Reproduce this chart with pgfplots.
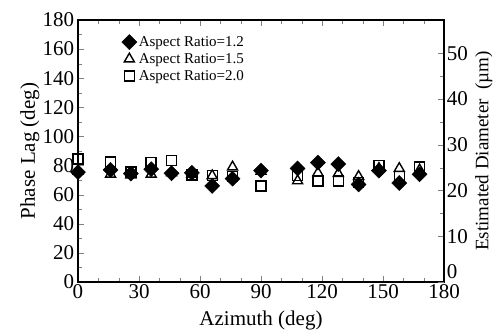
\documentclass[border=0pt]{standalone}
\usepackage{pgfplots}
\pgfplotsset{compat=1.18}
\usepackage{fontspec}
\setmainfont{Liberation Serif}
\begin{document}
\begin{tikzpicture}[font=\fontsize{21bp}{24bp}\selectfont]
\pgfplotsset{
  every axis/.append style={line width=1.2bp},
  major tick length=6bp, minor tick length=4bp,
}
\begin{axis}[
  scale only axis, width=366bp, height=262bp,
  xmin=0, xmax=180, ymin=0, ymax=180,
  xtick={0,30,...,180}, minor x tick num=2,
  ytick={0,20,...,180}, minor y tick num=1,
  xtick pos=both, ytick pos=left, tick align=inside,
  /pgf/number format/assume math mode=true,
  xlabel={Azimuth (deg)}, ylabel={Phase Lag (deg)},
  xlabel style={at={(0.5,0)}, anchor=center, yshift=-38bp},
  ylabel style={yshift=-4bp},
  xticklabel style={yshift=1bp},
  tick label style={font=\fontsize{21bp}{24bp}\selectfont},
  legend style={at={(0.11,0.955)}, anchor=north west, draw=none, fill=none,
    font=\fontsize{15bp}{16.5bp}\selectfont, row sep=1.5bp,
    legend cell align=left},
  reverse legend,
]
\addplot[only marks, mark=square, mark size=5bp, mark options={line width=1.4bp, draw=black}] coordinates {
(0,84.5) (16,82.5) (26,75.5) (36,82) (46,83.5) (56,73.5) (66,73) (76,72.5)
(90,66) (108,73) (118,69.5) (128,69.5) (138,68.5) (148,80) (158,72.5) (168,79)};
\addlegendentry{Aspect Ratio=2.0}
\addplot[only marks, mark=triangle, mark size=5.8bp, mark options={line width=1.4bp, draw=black}] coordinates {
(0,76) (16,74) (26,73.5) (36,74) (46,75) (56,74) (66,73) (76,79)
(90,76) (108,69.5) (118,75) (128,74.5) (138,72.5) (148,78) (158,78) (168,77)};
\addlegendentry{Aspect Ratio=1.5}
\addplot[only marks, mark=square*, mark size=5.3bp, mark options={rotate=45, fill=black, draw=black, line width=0.5bp}] coordinates {
(0,75.5) (16,77) (26,74.5) (36,77.5) (46,74.7) (56,75) (66,66) (76,71)
(90,76.5) (108,78) (118,82) (128,81) (138,67) (148,76.5) (158,68) (168,74)};
\addlegendentry{Aspect Ratio=1.2}
\end{axis}
\begin{axis}[
  scale only axis, width=366bp, height=262bp,
  xmin=0, xmax=180, ymin=0, ymax=57.3,
  axis x line=none, axis y line*=right,
  ytick={10,20,...,50}, minor y tick num=1, tick align=inside,
  extra y ticks={0}, extra y tick style={yticklabel style={yshift=10bp}},
  /pgf/number format/assume math mode=true,
  tick label style={font=\fontsize{21bp}{24bp}\selectfont},
  yticklabel style={xshift=-1bp},
  ylabel={Estimated Diameter\ \ (\textmu m)},
  ylabel style={font=\fontsize{19bp}{22bp}\selectfont},
]
\addplot[draw=none] coordinates {(0,0)};
\end{axis}
\path (-78bp,-49bp) rectangle (420bp,282bp);
\end{tikzpicture}
\end{document}
